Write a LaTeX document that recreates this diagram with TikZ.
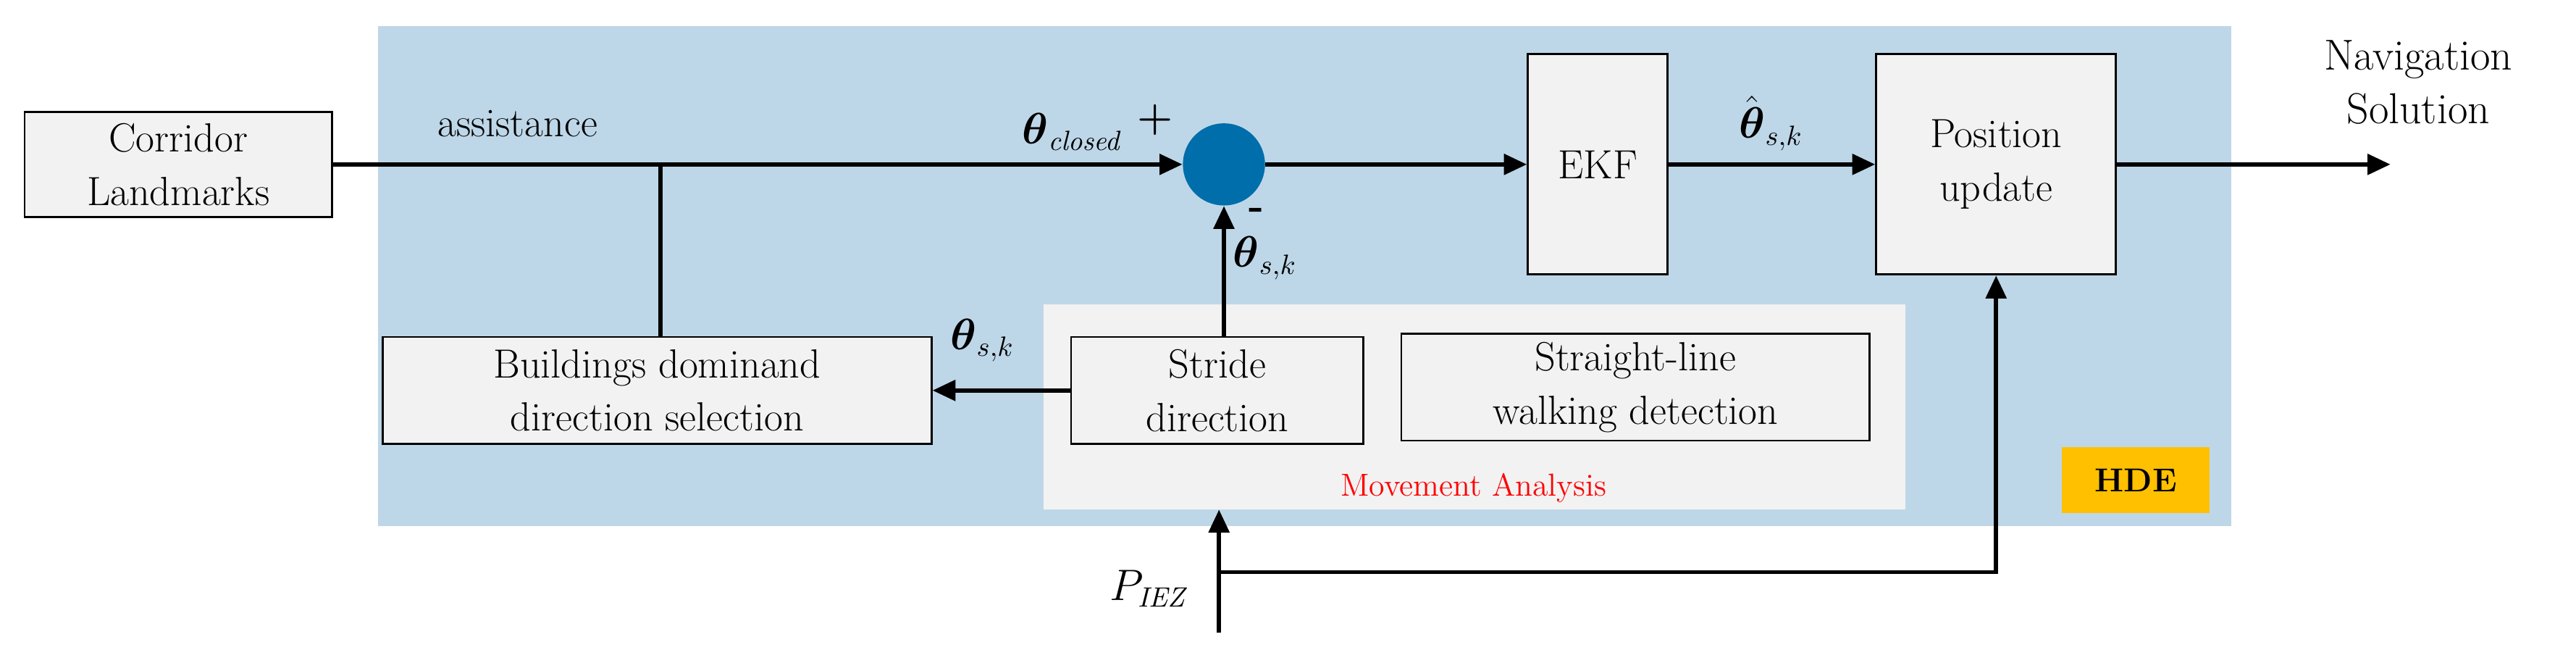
\documentclass[tikz,border=0pt]{standalone}
\usepackage{amsmath}
\usetikzlibrary{arrows.meta}
\definecolor{bgblue}{RGB}{190,215,232}
\definecolor{dotblue}{RGB}{0,110,170}
\definecolor{boxgrey}{RGB}{242,242,242}
\definecolor{hdey}{RGB}{255,192,0}
\begin{document}
\begin{tikzpicture}[x=0.02269cm,y=-0.02269cm,
  blk/.style={draw=black,fill=boxgrey,line width=0.8pt,align=center,inner sep=0pt,font=\fontsize{16}{21}\selectfont},
  con/.style={line width=1.6pt},
  arr/.style={con,-{Triangle[length=9pt,width=8pt]}},
  lab/.style={font=\fontsize{16}{19}\selectfont}]
\useasboundingbox (0,0) rectangle (1568,400);
\fill[bgblue] (230,16) rectangle (1358,320);
\fill[boxgrey] (635,185) rectangle (1160,310);
\node[text=red,font=\fontsize{12.5}{14}\selectfont] (malab) at (897,297) {Movement Analysis};
\node[blk,minimum width=187*0.02269cm,minimum height=64*0.02269cm] (cl) at (108.5,100) {Corridor\\Landmarks};
\node[blk,minimum width=334*0.02269cm,minimum height=65*0.02269cm] (bd) at (400,237.5) {Buildings dominand\\direction selection};
\node[blk,minimum width=178*0.02269cm,minimum height=65*0.02269cm] (sd) at (741,237.5) {Stride\\direction};
\node[blk,minimum width=285*0.02269cm,minimum height=65*0.02269cm] (sl) at (995.5,235.5) {Straight-line\\walking detection};
\node[blk,minimum width=85*0.02269cm,minimum height=134*0.02269cm] (ekf) at (972.5,100) {EKF};
\node[blk,minimum width=146*0.02269cm,minimum height=134*0.02269cm] (pu) at (1215,100) {Position\\update};
\node[circle,fill=dotblue,minimum size=50*0.02269cm,inner sep=0pt] (c) at (745,100) {};
\node[fill=hdey,minimum width=90*0.02269cm,minimum height=40*0.02269cm,inner sep=0pt,font=\fontsize{13}{15}\selectfont\bfseries] (hde) at (1300,292) {HDE};
\node[font=\fontsize{17}{21}\selectfont,align=center] (nav) at (1472,50) {Navigation\\Solution};
\node[lab] (as) at (315,75) {assistance};
\node[lab] (tc) at (653,80) {$\boldsymbol{\theta}_{\mathit{closed}}$};
\node[lab] at (703,73) {\textbf{+}};
\node[lab] at (765,130) {\textbf{-}};
\node[lab] (t1) at (770,157) {$\boldsymbol{\theta}_{s,k}$};
\node[lab] (t2) at (598,207) {$\boldsymbol{\theta}_{s,k}$};
\node[lab] (th) at (1078,75) {$\hat{\boldsymbol{\theta}}_{s,k}$};
\node[lab] (p) at (700,358) {$P_{\mathit{IEZ}}$};
\coordinate (j) at (402,100);
\coordinate (out) at (1455,100);
\coordinate (pb) at (742,385);
\coordinate (pj) at (742,348);
\coordinate (pc) at (1215,348);
\draw[arr] (cl.east) -- (c.west);
\draw[con] (j) -- (j|-bd.north);
\draw[arr] (sd.west) -- (bd.east);
\draw[arr] (sd.north-|c) -- (c.south);
\draw[arr] (c.east) -- (ekf.west);
\draw[arr] (ekf.east) -- (pu.west);
\draw[arr] (pu.east) -- (out);
\draw[arr] (pb) -- (742,310);
\draw[arr] (pj) -- (pc) -- (pu.south);
\end{tikzpicture}
\end{document}
